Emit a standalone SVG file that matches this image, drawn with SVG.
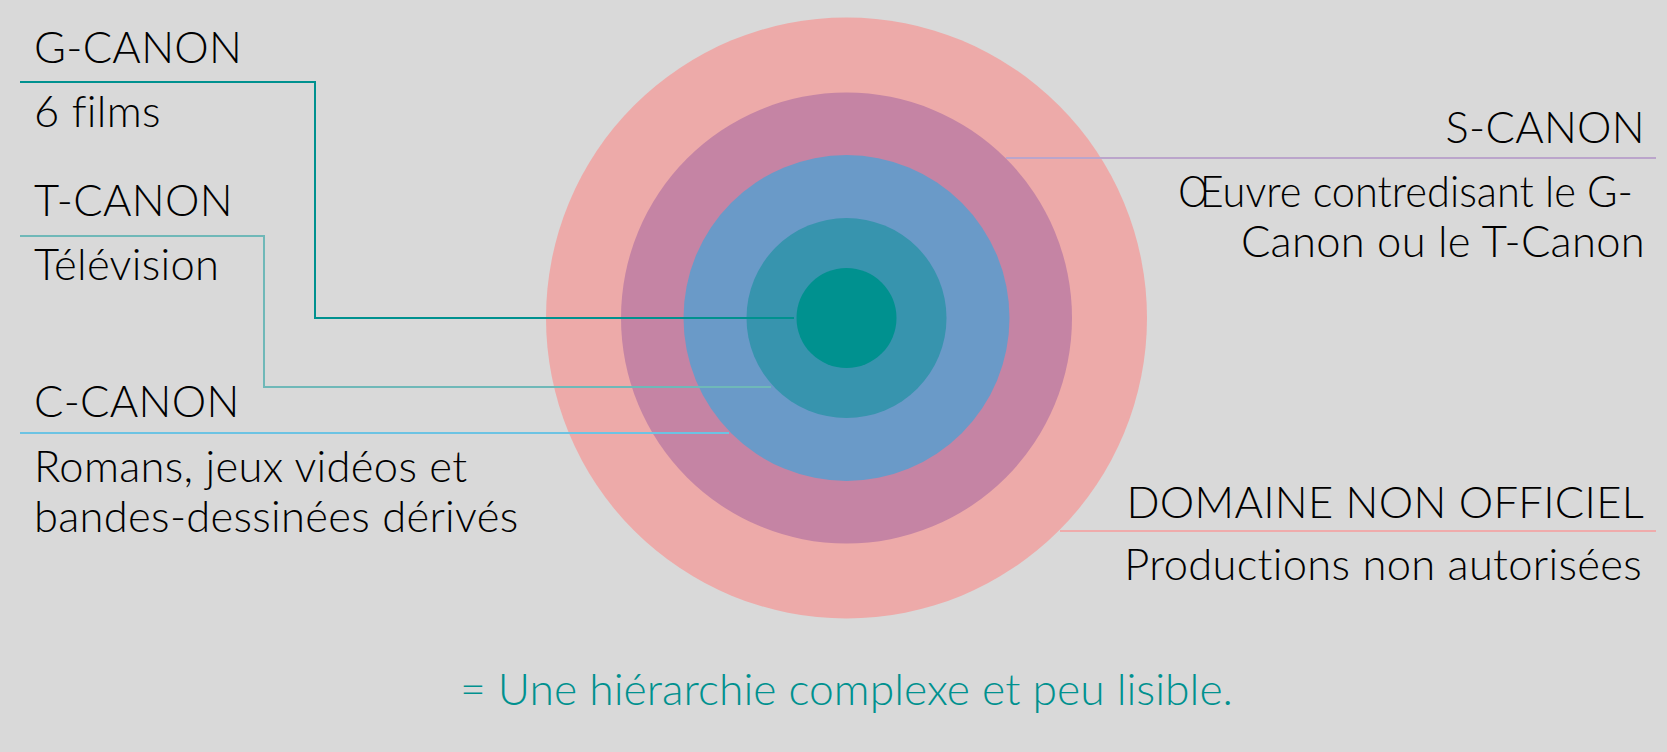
<svg xmlns="http://www.w3.org/2000/svg" width="1667" height="752" viewBox="0 0 1667 752">
<style>
.t{font-family:Lato,"Open Sans","Liberation Sans",sans-serif;font-size:43.5px;fill:#000;font-weight:300;letter-spacing:0.3px}
.e{text-anchor:end}
.ln{fill:none;stroke-width:2}
</style>
<rect width="1667" height="752" fill="#d9d9d9"/>
<g id="rings">
<circle cx="846.5" cy="318" r="300.5" fill="#edaaa9"/>
<circle cx="846.5" cy="318" r="225.5" fill="#c584a4"/>
<circle cx="846.5" cy="318" r="163" fill="#6a9ac8"/>
<circle cx="846.5" cy="318" r="100" fill="#3794ae"/>
<circle cx="846.5" cy="318" r="50" fill="#00918f"/>
</g>
<g id="connectors">
<polyline class="ln" stroke="#00918f" points="20,82 315,82 315,318 794,318"/>
<polyline class="ln" stroke="#6fb8b8" points="20,236 264,236 264,387 771,387"/>
<polyline class="ln" stroke="#6cc3e3" points="20,433 729,433"/>
<polyline class="ln" stroke="#bba5cb" points="1006,158 1656,158"/>
<polyline class="ln" stroke="#efabab" points="1060,531 1656,531"/>
</g>
<g id="g-canon">
<text class="t" x="34" y="63">G-CANON</text>
<text class="t" x="34" y="127">6 films</text>
</g>
<g id="t-canon">
<text class="t" x="34" y="216">T-CANON</text>
<text class="t" x="34" y="280">Télévision</text>
</g>
<g id="c-canon">
<text class="t" x="34" y="417">C-CANON</text>
<text class="t" x="34" y="482">Romans, jeux vidéos et</text>
<text class="t" x="34" y="532">bandes-dessinées dérivés</text>
</g>
<g id="s-canon">
<text class="t e" x="1645" y="143">S-CANON</text>
<text class="t" x="1178" y="207" textLength="455" lengthAdjust="spacingAndGlyphs" style="letter-spacing:0">Œuvre contredisant le G-</text>
<text class="t e" x="1645" y="257">Canon ou le T-Canon</text>
</g>
<g id="domaine">
<text class="t e" x="1644" y="518">DOMAINE NON OFFICIEL</text>
<text class="t e" x="1642" y="580">Productions non autorisées</text>
</g>
<text class="t" x="460" y="705" textLength="773" lengthAdjust="spacingAndGlyphs" style="fill:#00918f;font-size:44px;letter-spacing:0">= Une hiérarchie complexe et peu lisible.</text>
</svg>
